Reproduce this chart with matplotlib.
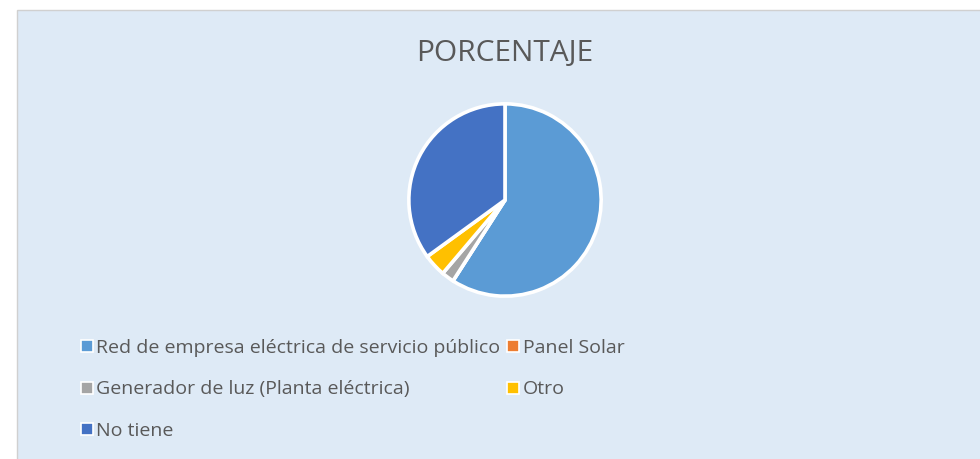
import matplotlib
matplotlib.use("Agg")
import matplotlib.pyplot as plt
from matplotlib.patches import Rectangle
from matplotlib.lines import Line2D

# Share of households by electricity source (%)
categories = [
    "Red de empresa eléctrica de servicio público",
    "Panel Solar",
    "Generador de luz (Planta eléctrica)",
    "Otro",
    "No tiene",
]
values = [59.1, 0.0, 2.1, 3.8, 35.0]
colors = ["#5B9BD5", "#ED7D31", "#A5A5A5", "#FFC000", "#4472C4"]
title = "PORCENTAJE"

plt.rcParams["font.family"] = ["Open Sans", "DejaVu Sans"]

W, H = 980, 459
fig = plt.figure(figsize=(W / 100, H / 100), dpi=100)
fig.patch.set_facecolor("white")

# chart area panel
fig.patches.append(Rectangle((17 / W, -0.01), 1.0, 1 - 10 / H + 0.01,
                             transform=fig.transFigure, facecolor="#DEEAF6",
                             edgecolor="#D0D0D0", linewidth=1.0, zorder=-5))

fig.text(505 / W, 1 - 53 / H, title, ha="center", va="center",
         fontsize=21.5, color="#595959")

ax = fig.add_axes([(505 - 100) / W, 1 - (200 + 100) / H, 200 / W, 200 / H])
ax.set_zorder(2)
ax.pie(values, colors=colors, startangle=90, counterclock=False,
       wedgeprops=dict(edgecolor="white", linewidth=2.6))
ax.set_xlim(-1.04, 1.04)
ax.set_ylim(-1.04, 1.04)
ax.set_aspect("equal")

# legend fills row by row: reorder so column-first layout reads that way
order = [0, 2, 4, 1, 3]
handles = [Line2D([], [], linestyle="none", marker="s", markersize=8,
                  markerfacecolor=colors[i], markeredgecolor="white",
                  markeredgewidth=1.2) for i in order]
labels = [categories[i] for i in order]
leg = fig.legend(handles, labels, ncol=2, loc="upper left",
                 bbox_to_anchor=(71 / W, 1 - 329 / H), frameon=False,
                 fontsize=14, labelcolor="#595959", handlelength=0.6,
                 handletextpad=0.2, columnspacing=0.35, labelspacing=1.22,
                 borderpad=0)
leg.set_zorder(3)

fig.savefig("out.png", dpi=100, facecolor=fig.get_facecolor())
